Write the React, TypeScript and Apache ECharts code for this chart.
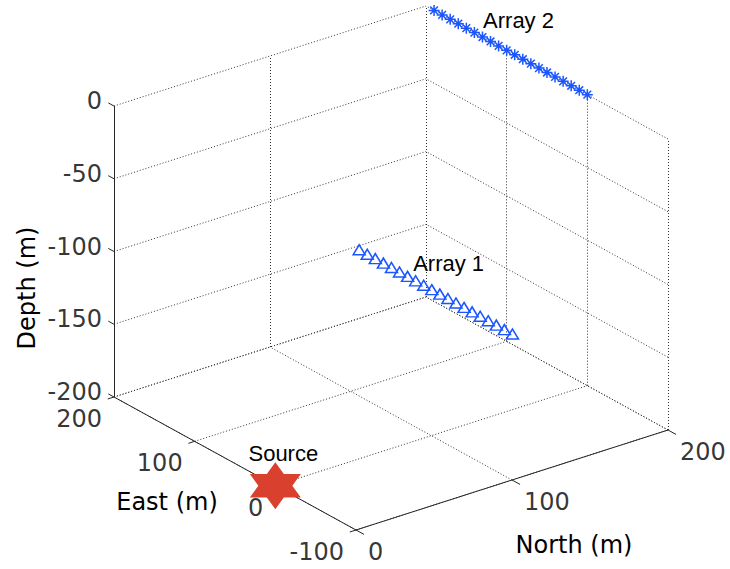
import React, { useEffect, useRef } from "react";
import * as echarts from "echarts";

// ---------- data (metres) ----------
const NORTH_TICKS = [0, 100, 200];
const EAST_TICKS = [-100, 0, 100, 200];
const DEPTH_TICKS = [-200, -150, -100, -50, 0];

const NORTH_RANGE = [0, 200];
const EAST_RANGE = [-100, 200];
const DEPTH_RANGE = [-200, 0];

const ARRAY1_EAST = [0, 10, 20, 30, 40, 50, 60, 70, 80, 90, 100, 110, 120, 130, 140, 150, 160, 170, 180, 190];
const ARRAY1_NORTH = 152;
const ARRAY1_DEPTH = -148;

const ARRAY2_EAST = [0, 10, 20, 30, 40, 50, 60, 70, 80, 90, 100, 110, 120, 130, 140, 150, 160, 170, 180, 190];
const ARRAY2_NORTH = 200;
const ARRAY2_DEPTH = 0;

const SOURCE_NORTH = 0;
const SOURCE_EAST = 0;
const SOURCE_DEPTH = -200;

// ---------- 3D view (orthographic projection onto the page) ----------
const VIEW = { ox: 356, oy: 530, nx: 1.56, ny: -0.5, ex: -0.8067, ey: -0.4433, zy: -1.455 };
function project(n: number, e: number, z: number): number[] {
  const dn = n - NORTH_RANGE[0];
  const de = e - EAST_RANGE[0];
  const dz = z - DEPTH_RANGE[0];
  return [VIEW.ox + VIEW.nx * dn + VIEW.ex * de, VIEW.oy + VIEW.ny * dn + VIEW.ey * de + VIEW.zy * dz];
}

const AXIS_FONT = "'DejaVu Sans', sans-serif";
const NOTE_FONT = "'Liberation Sans', Arial, sans-serif";
const BLUE = "#1a55ff";

const HEXAGRAM =
  "path://M50 0L64.43 25L93.3 25L78.87 50L93.3 75L64.43 75L50 100L35.57 75L6.7 75L21.13 50L6.7 25L35.57 25Z";
const ASTERISK = "path://M5 0L5 10M0 5L10 5M1.5 1.5L8.5 8.5M8.5 1.5L1.5 8.5";

export default function App() {
  const ref = useRef<HTMLDivElement>(null);
  useEffect(() => {
    if (!ref.current) return;
    const chart = echarts.init(ref.current, undefined, { renderer: "svg" });

    const [n0, n1] = NORTH_RANGE;
    const [e0, e1] = EAST_RANGE;
    const [z0, z1] = DEPTH_RANGE;

    // grid lines on the floor and the two back walls
    const grid: any[] = [];
    NORTH_TICKS.forEach((n) => {
      grid.push({ coords: [project(n, e0, z0), project(n, e1, z0)] });
      grid.push({ coords: [project(n, e1, z0), project(n, e1, z1)] });
    });
    EAST_TICKS.forEach((e) => {
      grid.push({ coords: [project(n0, e, z0), project(n1, e, z0)] });
      grid.push({ coords: [project(n1, e, z0), project(n1, e, z1)] });
    });
    DEPTH_TICKS.forEach((z) => {
      grid.push({ coords: [project(n0, e1, z), project(n1, e1, z)] });
      grid.push({ coords: [project(n1, e0, z), project(n1, e1, z)] });
    });

    const axes = [
      { coords: [project(n0, e1, z0), project(n0, e1, z1)] },
      { coords: [project(n0, e1, z0), project(n0, e0, z0)] },
      { coords: [project(n0, e0, z0), project(n1, e0, z0)] },
    ];
    const ticks: any[] = [];
    DEPTH_TICKS.forEach((z) => ticks.push({ coords: [project(n0, e1, z), project(n0, e1 + 7, z)] }));
    EAST_TICKS.forEach((e) => ticks.push({ coords: [project(n0, e, z0), project(n0 - 4, e, z0)] }));
    NORTH_TICKS.forEach((n) => ticks.push({ coords: [project(n, e0, z0), project(n, e0 - 10, z0)] }));

    const tickLabel = (data: any[], align: string, offset: number[]) => ({
      type: "scatter",
      data,
      symbolSize: 1,
      itemStyle: { color: "rgba(0,0,0,0)" },
      silent: true,
      z: 8,
      label: {
        show: true,
        formatter: "{b}",
        position: "inside",
        align,
        verticalAlign: "middle",
        offset,
        color: "#000",
        fontFamily: AXIS_FONT,
        fontSize: 24,
      },
    });

    const noteLabel = (text: string, align: string, offset: number[]) => ({
      show: true,
      formatter: text,
      position: "inside",
      align,
      verticalAlign: "middle",
      offset,
      color: "#000",
      fontFamily: NOTE_FONT,
      fontSize: 22,
    });

    const array1 = ARRAY1_EAST.map((e, i) => {
      const item: any = { value: project(ARRAY1_NORTH, e, ARRAY1_DEPTH) };
      if (i === ARRAY1_EAST.length - 1) item.label = noteLabel("Array 1", "left", [54, 14]);
      return item;
    });
    const array2 = ARRAY2_EAST.map((e, i) => {
      const item: any = { value: project(ARRAY2_NORTH, e, ARRAY2_DEPTH) };
      if (i === ARRAY2_EAST.length - 1) item.label = noteLabel("Array 2", "left", [49, 10]);
      return item;
    });

    chart.setOption({
      animation: false,
      backgroundColor: "#fff",
      grid: { left: 0, right: 0, top: 0, bottom: 0 },
      xAxis: { type: "value", min: 0, max: 730, show: false },
      yAxis: { type: "value", min: 0, max: 569, inverse: true, show: false },
      graphic: [
        {
          type: "text",
          x: 27,
          y: 288,
          rotation: Math.PI / 2,
          style: {
            text: "Depth (m)",
            fill: "#000",
            font: `24px ${AXIS_FONT}`,
            align: "center",
            verticalAlign: "middle",
          },
          z: 20,
        },
        {
          type: "text",
          x: 167,
          y: 502,
          style: { text: "East (m)", fill: "#000", font: `24px ${AXIS_FONT}`, align: "center", verticalAlign: "middle" },
          z: 20,
        },
        {
          type: "text",
          x: 574,
          y: 545,
          style: { text: "North (m)", fill: "#000", font: `24px ${AXIS_FONT}`, align: "center", verticalAlign: "middle" },
          z: 20,
        },
      ],
      series: [
        {
          type: "lines",
          coordinateSystem: "cartesian2d",
          data: grid,
          silent: true,
          z: 1,
          lineStyle: { color: "#333", width: 1, type: [1, 2], opacity: 1 },
        },
        {
          type: "lines",
          coordinateSystem: "cartesian2d",
          data: axes.concat(ticks),
          silent: true,
          z: 2,
          lineStyle: { color: "#262626", width: 1, type: "solid", opacity: 1 },
        },
        {
          type: "scatter",
          name: "Array 1",
          data: array1,
          symbol: "triangle",
          symbolSize: [12, 10],
          itemStyle: { color: "rgba(0,0,0,0)", borderColor: BLUE, borderWidth: 1.5, opacity: 1 },
          z: 5,
        },
        {
          type: "scatter",
          name: "Array 2",
          data: array2,
          symbol: ASTERISK,
          symbolSize: 11,
          itemStyle: { color: "rgba(0,0,0,0)", borderColor: BLUE, borderWidth: 1.5, opacity: 1 },
          z: 5,
        },
        {
          type: "scatter",
          name: "Source",
          data: [
            {
              value: project(SOURCE_NORTH, SOURCE_EAST, SOURCE_DEPTH),
              label: noteLabel("Source", "center", [8, -32]),
            },
          ],
          symbol: HEXAGRAM,
          symbolSize: [51, 47],
          itemStyle: { color: "#d9402e", opacity: 1 },
          z: 11,
        },
        tickLabel(
          DEPTH_TICKS.map((z) => ({ value: project(n0, e1, z), name: String(z) })),
          "right",
          [-12, -5]
        ),
        tickLabel(
          EAST_TICKS.map((e) => ({ value: project(n0, e, z0), name: String(e) })),
          "right",
          [-12, 22]
        ),
        tickLabel(
          NORTH_TICKS.map((n) => ({ value: project(n, e0, z0), name: String(n) })),
          "left",
          [12, 22]
        ),
      ],
    });
    return () => chart.dispose();
  }, []);
  return (
    <div
      ref={ref}
      style={{ position: "absolute", left: 0, top: 0, width: 730, height: 569, background: "#fff" }}
    />
  );
}
